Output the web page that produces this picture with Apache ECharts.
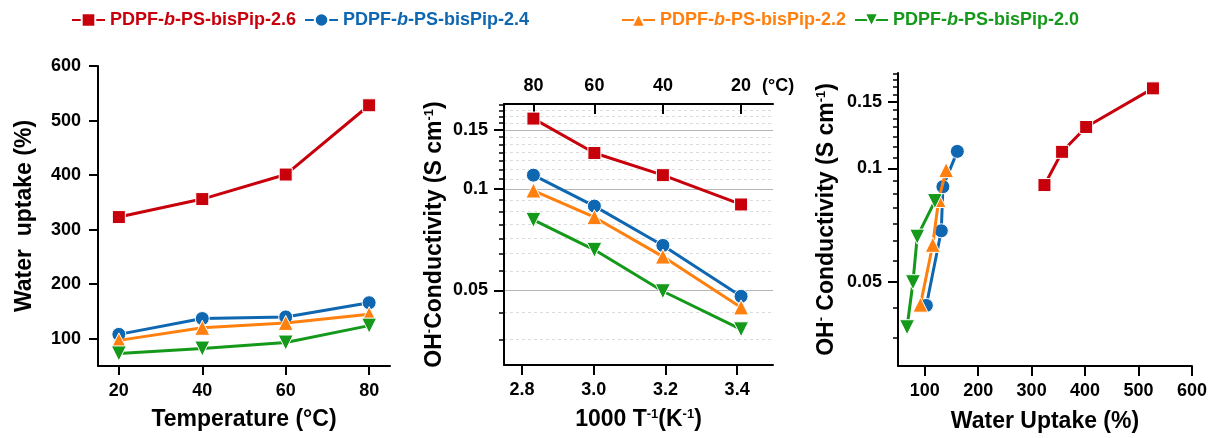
<!DOCTYPE html>
<html>
<head>
<meta charset="utf-8">
<script src="https://cdn.jsdelivr.net/npm/echarts@6/dist/echarts.min.js"></script>
<style>
html,body{margin:0;padding:0;background:#fff;}
#c{width:1210px;height:438px;}
</style>
</head>
<body>
<div id="c"></div>
<script>
// ---------- data ----------
const seriesNames = ['PDPF-b-PS-bisPip-2.6', 'PDPF-b-PS-bisPip-2.4', 'PDPF-b-PS-bisPip-2.2', 'PDPF-b-PS-bisPip-2.0'];
const temps = [20, 40, 60, 80];
const wu26 = [323, 356, 401, 528];
const wu24 = [108, 137, 140, 166];
const wu22 = [97, 120, 129, 145];
const wu20 = [73, 82, 93, 124];

const invT = [2.832, 3.002, 3.193, 3.411];
const cond26 = [0.162, 0.128, 0.110, 0.090];
const cond24 = [0.110, 0.089, 0.068, 0.048];
const cond22 = [0.099, 0.0825, 0.063, 0.0445];
const cond20 = [0.081, 0.066, 0.0497, 0.0383];

const rWU26 = [324, 357, 402, 527];
const rC26 = [0.0904, 0.1107, 0.1288, 0.163];
const rWU24 = [103, 131, 134, 161];
const rC24 = [0.0434, 0.0684, 0.0895, 0.111];
const rWU22 = [92, 115, 126, 140];
const rC22 = [0.0436, 0.0628, 0.0825, 0.099];
const rWU20 = [67, 78, 86, 119];
const rC20 = [0.038, 0.050, 0.066, 0.082];

// tick labels
const tempTicks = [20, 40, 60, 80];
const wuTicks = [100, 200, 300, 400, 500, 600];
const invTTicks = [2.8, 3.0, 3.2, 3.4];
const topTempLabels = ['80', '60', '40', '20'];
const wuTicksRight = [100, 200, 300, 400, 500, 600];
const condMajor = [0.05, 0.1, 0.15];
const condMinor = [0.0357, 0.0429, 0.0571, 0.0643, 0.0714, 0.0786, 0.0857, 0.0929,
                   0.1071, 0.1143, 0.1214, 0.1286, 0.1357, 0.1429, 0.1571, 0.1643, 0.1714, 0.1786];

// ---------- styles ----------
const colors = ['#C8000C', '#0E67B0', '#FF800E', '#14991A'];
const symbols = ['rect', 'circle', 'triangle', 'triangle'];
const symRot = [0, 0, 0, 180];
const symSize = [13, 14, 15, 15];
const FF = 'Liberation Sans, Arial, Helvetica, sans-serif';
const condMin = 0.03, condMax = 0.179;
const lg = Math.log10;

const lblStyle = { fontSize: 18, fontWeight: 'bold', color: '#000', fontFamily: FF };
const axLine = { show: true, lineStyle: { color: '#000', width: 2 } };
const nameStyle = {
  fontSize: 23, fontWeight: 'bold', color: '#000', fontFamily: FF,
  rich: {
    b: { fontSize: 23, fontWeight: 'bold', color: '#000', fontFamily: FF },
    s: { fontSize: 13, fontWeight: 'bold', color: '#000', fontFamily: FF, verticalAlign: 'top' }
  }
};
const majorFmt = v => String(Math.round(Math.pow(10, v) * 100) / 100);

function logOverlay(grid, nameText, gap, split) {
  return [{
    type: 'value', gridIndex: grid, position: 'left', offset: 0,
    min: lg(condMin), max: lg(condMax),
    axisLine: axLine,
    axisTick: { show: true, customValues: condMajor.map(lg), length: 10, lineStyle: { color: '#000', width: 2 } },
    axisLabel: { show: true, customValues: condMajor.map(lg), formatter: majorFmt, margin: 16, ...lblStyle },
    splitLine: { show: split, lineStyle: { color: '#b5b5b5', width: 1 } },
    name: nameText, nameLocation: 'middle', nameGap: gap, nameRotate: 90, nameTextStyle: nameStyle
  }, {
    type: 'value', gridIndex: grid, position: 'left', offset: 0,
    min: lg(condMin), max: lg(condMax),
    axisLine: { show: false },
    axisTick: { show: true, customValues: condMinor.map(lg), length: 5, lineStyle: { color: '#000', width: 1.5 } },
    axisLabel: { show: false },
    splitLine: { show: split, lineStyle: { color: '#dcdcdc', width: 1, type: [3, 3] } }
  }];
}

function mk(i, xIdx, yIdx, xs, ys) {
  return {
    type: 'line', name: seriesNames[i], xAxisIndex: xIdx, yAxisIndex: yIdx,
    data: xs.map((x, k) => [x, ys[k]]),
    symbol: symbols[i], symbolRotate: symRot[i], symbolSize: symSize[i],
    lineStyle: { color: colors[i], width: 3 },
    itemStyle: { color: colors[i], borderColor: '#fff', borderWidth: 1 },
    z: 2 + i
  };
}

const legendRich = {};
['r', 'u', 'o', 'g'].forEach((k, i) => {
  legendRich[k] = { color: colors[i], fontSize: 18, fontWeight: 'bold', fontFamily: FF };
  legendRich[k + 'i'] = { color: colors[i], fontSize: 18, fontWeight: 'bold', fontStyle: 'italic', fontFamily: FF };
});
const legendFmt = name => {
  const k = ['r', 'u', 'o', 'g'][seriesNames.indexOf(name)];
  const parts = name.split('-b-');
  return '{' + k + '|' + parts[0] + '-}{' + k + 'i|b}{' + k + '|-' + parts[1] + '}';
};
function mkLegend(left, names) {
  return {
    top: 6, left: left, itemWidth: 33, itemHeight: 17, itemGap: 8,
    data: names,
    textStyle: { fontSize: 18, fontWeight: 'bold', fontFamily: FF, rich: legendRich },
    formatter: legendFmt
  };
}

const option = {
  animation: false,
  backgroundColor: '#fff',
  legend: [mkLegend(66, seriesNames.slice(0, 2)), mkLegend(616, seriesNames.slice(2, 4))],
  grid: [
    { left: 98, top: 66, width: 292, height: 300 },
    { left: 504, top: 104, width: 269, height: 261 },
    { left: 898, top: 73, width: 294, height: 295 }
  ],
  xAxis: [
    {
      type: 'value', gridIndex: 0, position: 'bottom', min: 15, max: 85,
      axisLine: axLine,
      axisTick: { customValues: tempTicks, length: 9, lineStyle: { color: '#000', width: 2 } },
      axisLabel: { customValues: tempTicks, margin: 16, ...lblStyle },
      splitLine: { show: false },
      name: 'Temperature (°C)', nameLocation: 'middle', nameGap: 42, nameTextStyle: nameStyle
    },
    {
      type: 'value', gridIndex: 1, position: 'bottom', min: 2.75, max: 3.5,
      axisLine: axLine,
      axisTick: { customValues: invTTicks, length: 10, lineStyle: { color: '#000', width: 2 } },
      axisLabel: { customValues: invTTicks, margin: 16, formatter: v => v.toFixed(1), ...lblStyle },
      splitLine: { show: false },
      name: '{b|1000 T}{s|-1}{b|(K}{s|-1}{b|)}', nameLocation: 'middle', nameGap: 43, nameTextStyle: nameStyle
    },
    {
      type: 'value', gridIndex: 1, position: 'top', min: 2.75, max: 3.5,
      axisLine: axLine,
      axisTick: { customValues: invT, length: 10, inside: true, lineStyle: { color: '#000', width: 2 } },
      axisLabel: {
        customValues: invT, margin: 9, ...lblStyle,
        formatter: v => { const k = invT.findIndex(t => Math.abs(t - v) < 1e-6); return k >= 0 ? topTempLabels[k] : ''; }
      },
      splitLine: { show: false },
      name: '(°C)', nameLocation: 'end', nameGap: -11,
      nameTextStyle: { ...lblStyle, verticalAlign: 'bottom', align: 'left', padding: [0, 0, 9, 0] }
    },
    {
      type: 'value', gridIndex: 2, position: 'bottom', min: 50, max: 600,
      axisLine: axLine,
      axisTick: { customValues: wuTicksRight, length: 10, lineStyle: { color: '#000', width: 2 } },
      axisLabel: { customValues: wuTicksRight, margin: 16, ...lblStyle },
      splitLine: { show: false },
      name: 'Water Uptake (%)', nameLocation: 'middle', nameGap: 44, nameTextStyle: nameStyle
    }
  ],
  yAxis: [
    {
      type: 'value', gridIndex: 0, position: 'left', min: 50, max: 600,
      axisLine: axLine,
      axisTick: { customValues: wuTicks, length: 9, lineStyle: { color: '#000', width: 2 } },
      axisLabel: { customValues: wuTicks, margin: 17, ...lblStyle },
      splitLine: { show: false },
      name: 'Water  uptake (%)', nameLocation: 'middle', nameGap: 62, nameRotate: 90, nameTextStyle: nameStyle
    },
    {
      type: 'log', gridIndex: 1, position: 'left', offset: 0, min: condMin, max: condMax,
      axisLine: { show: false }, axisTick: { show: false }, axisLabel: { show: false }, splitLine: { show: false }
    },
    ...logOverlay(1, '{b|OH}{s|-}{b|Conductivity (S cm}{s|-1}{b|)}', 58, true),
    {
      type: 'log', gridIndex: 2, position: 'left', offset: 0, min: condMin, max: condMax,
      axisLine: { show: false }, axisTick: { show: false }, axisLabel: { show: false }, splitLine: { show: false }
    },
    ...logOverlay(2, '{b|OH}{s|-}{b| Conductivity (S cm}{s|-1}{b|)}', 60, false)
  ],
  series: [
    mk(0, 0, 0, temps, wu26), mk(1, 0, 0, temps, wu24), mk(2, 0, 0, temps, wu22), mk(3, 0, 0, temps, wu20),
    mk(0, 1, 1, invT, cond26), mk(1, 1, 1, invT, cond24), mk(2, 1, 1, invT, cond22), mk(3, 1, 1, invT, cond20),
    mk(0, 3, 4, rWU26, rC26), mk(1, 3, 4, rWU24, rC24), mk(2, 3, 4, rWU22, rC22), mk(3, 3, 4, rWU20, rC20)
  ]
};

const chart = echarts.init(document.getElementById('c'), null, { renderer: 'canvas' });
chart.setOption(option);
</script>
</body>
</html>
